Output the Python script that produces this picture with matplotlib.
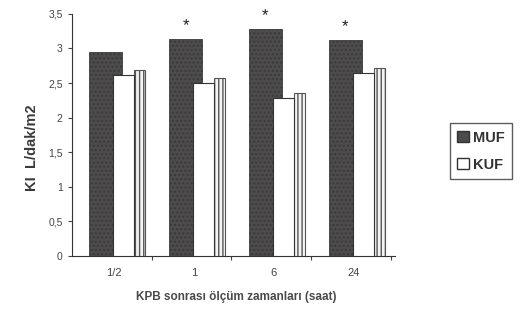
import matplotlib.pyplot as plt
import numpy as np
from matplotlib.patches import Patch

plt.rcParams["font.family"] = ["Liberation Sans", "DejaVu Sans"]
plt.rcParams["hatch.color"] = "#6e6c6c"

# Values (cardiac index, L/dak/m2)
time_labels = ["1/2", "1", "6", "24"]
muf_values = [2.95, 3.13, 3.28, 3.12]
kuf_values = [2.62, 2.50, 2.29, 2.65]
significant = [False, True, True, True]

fig = plt.figure(figsize=(5.24, 3.22), dpi=100)
ax = fig.add_axes([0.137, 0.205, 0.617, 0.752])

x = np.arange(len(time_labels))
dark = "#4d4b4b"

# dark MUF bars (behind)
ax.bar(x + 0.425, muf_values, width=0.41, color=dark, edgecolor="#3a3a3a",
       linewidth=0.6, hatch="....", zorder=2)

# KUF bars: white front face plus a hatched side face for the 3D look
depth = 0.07
ax.bar(x + 0.85, np.array(kuf_values) + depth, width=0.14,
       color="#f4f4f4", edgecolor="#555555", linewidth=0.8, hatch="||||",
       zorder=3)
ax.bar(x + 0.65, kuf_values, width=0.26, color="white", edgecolor="#333333",
       linewidth=0.8, zorder=4)

for xi, val, sig in zip(x, muf_values, significant):
    if sig:
        ax.annotate("*", (xi + 0.425, val), xytext=(0, 6),
                    textcoords="offset pixels", ha="center", va="bottom",
                    fontsize=12, color="#222222", annotation_clip=False)

ax.set_xlim(0, 4.05)
ax.set_ylim(0, 3.5)
ax.set_yticks(np.arange(0, 3.51, 0.5))
ax.set_yticklabels(["0", "0,5", "1", "1,5", "2", "2,5", "3", "3,5"],
                   fontsize=7.5, color="#444444")
ax.set_xticks([1, 2, 3, 4])
ax.set_xticklabels([])
ax.tick_params(axis="both", length=3, width=0.8, colors="#444444")
for i, lab in enumerate(time_labels):
    ax.text(i + 0.53, -0.17, lab, ha="center", va="top", fontsize=8,
            color="#444444")

for side in ["top", "right"]:
    ax.spines[side].set_visible(False)
ax.spines["left"].set_color("#333333")
ax.spines["bottom"].set_color("#333333")

fig.text(0.062, 0.54, "KI  L/dak/m2", rotation=90, ha="center", va="center",
         fontsize=10.5, fontweight="bold", color="#3a3a3a")
fig.text(0.45, 0.078, "KPB sonrası ölçüm zamanları (saat)", ha="center",
         va="center", fontsize=8.5, fontweight="bold", color="#4a4a4a")

# legend box
handles = [Patch(facecolor=dark, edgecolor="#333333", label="MUF"),
           Patch(facecolor="white", edgecolor="#333333", label="KUF")]
leg = fig.legend(handles=handles, loc="center left", bbox_to_anchor=(0.845, 0.53),
                 prop={"size": 10.5, "weight": "bold"}, frameon=True,
                 fancybox=False, handlelength=0.8, handleheight=0.8,
                 handletextpad=0.3, borderpad=0.5, labelspacing=0.9)
for t in leg.get_texts():
    t.set_color("#333333")
leg.get_frame().set_edgecolor("#333333")
leg.get_frame().set_linewidth(1.0)

fig.savefig("out.png", dpi=100)
